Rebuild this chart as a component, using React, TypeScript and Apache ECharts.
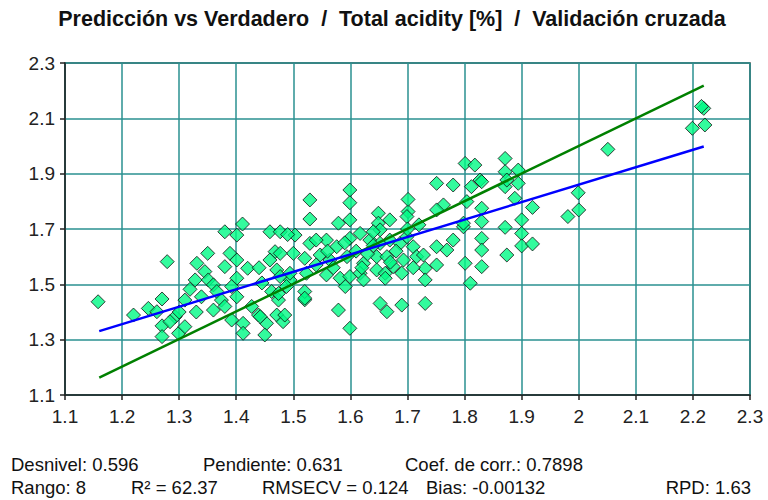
import React, { useEffect, useRef } from "react";
import * as echarts from "echarts";

// Reference (Verdadero) values, x axis
const refX = [
  1.158, 1.279, 1.220, 1.246, 1.270, 1.261, 1.270, 1.270, 1.293, 1.299,
  1.284, 1.319, 1.328, 1.331, 1.350, 1.345, 1.351, 1.360, 1.366, 1.360,
  1.374, 1.380, 1.389, 1.401, 1.420, 1.401, 1.401, 1.380, 1.401, 1.411,
  1.392, 1.412, 1.412, 1.439, 1.453, 1.450, 1.471, 1.459, 1.477, 1.468,
  1.459, 1.471, 1.462, 1.474, 1.310, 1.380, 1.427, 1.392, 1.339, 1.310,
  1.482, 1.442, 1.520, 1.474, 1.494, 1.503, 1.500, 1.477, 1.520, 1.547,
  1.564, 1.594, 1.558, 1.576, 1.599, 1.617, 1.634, 1.652, 1.669, 1.687,
  1.699, 1.710, 1.623, 1.646, 1.664, 1.675, 1.693, 1.716, 1.728, 1.477,
  1.494, 1.523, 1.558, 1.582, 1.599, 1.617, 1.646, 1.661, 1.690, 1.731,
  1.751, 1.488, 1.520, 1.520, 1.591, 1.623, 1.731, 1.485, 1.579, 1.599,
  1.652, 1.664, 1.690, 1.731, 1.579, 1.599, 1.649, 1.649, 1.669, 1.652,
  1.701, 1.699, 1.701, 1.599, 1.599, 1.529, 1.529, 1.529, 1.751, 1.780,
  1.801, 1.818, 1.812, 1.804, 1.763, 1.751, 1.780, 1.769, 1.798, 1.801,
  1.810, 1.751, 1.720, 1.661, 1.830, 1.874, 1.490, 1.798, 1.827, 1.830,
  1.830, 1.830, 1.830, 1.830, 1.871, 1.871, 1.894, 1.871, 1.894, 1.888,
  1.874, 1.900, 1.900, 1.900, 1.919, 1.919, 1.871, 1.999, 2.000, 1.981,
  2.051, 2.199, 2.221, 2.219, 2.215, 1.570, 1.610, 1.630, 1.680, 1.700,
  1.640, 1.590, 1.540, 1.560, 1.620, 1.670, 1.710, 1.540, 1.640, 1.440,
  1.445, 1.330, 1.300,
];

// Predicted (Predicción) values, y axis
const predY = [
  1.437, 1.582, 1.389, 1.413, 1.447, 1.401, 1.350, 1.311, 1.383, 1.323,
  1.365, 1.482, 1.516, 1.576, 1.612, 1.546, 1.516, 1.498, 1.474, 1.407,
  1.443, 1.564, 1.612, 1.588, 1.558, 1.522, 1.455, 1.690, 1.678, 1.718,
  1.371, 1.359, 1.323, 1.389, 1.359, 1.317, 1.389, 1.690, 1.690, 1.618,
  1.588, 1.552, 1.474, 1.443, 1.443, 1.420, 1.420, 1.492, 1.455, 1.347,
  1.365, 1.383, 1.444, 1.467, 1.516, 1.678, 1.612, 1.612, 1.594, 1.606,
  1.588, 1.600, 1.660, 1.636, 1.666, 1.684, 1.660, 1.648, 1.660, 1.648,
  1.672, 1.636, 1.576, 1.600, 1.600, 1.564, 1.588, 1.600, 1.606, 1.528,
  1.540, 1.540, 1.534, 1.522, 1.528, 1.540, 1.552, 1.540, 1.540, 1.558,
  1.570, 1.492, 1.474, 1.450, 1.492, 1.516, 1.516, 1.389, 1.407, 1.341,
  1.431, 1.401, 1.425, 1.431, 1.721, 1.733, 1.757, 1.721, 1.733, 1.697,
  1.763, 1.745, 1.807, 1.841, 1.795, 1.805, 1.736, 1.648, 1.865, 1.859,
  1.937, 1.931, 1.853, 1.799, 1.787, 1.769, 1.660, 1.624, 1.708, 1.576,
  1.504, 1.636, 1.715, 1.522, 1.564, 1.606, 1.680, 1.721, 1.877, 1.871,
  1.775, 1.727, 1.666, 1.624, 1.955, 1.907, 1.913, 1.853, 1.865, 1.811,
  1.877, 1.733, 1.684, 1.639, 1.778, 1.646, 1.706, 1.831, 1.769, 1.745,
  1.988, 2.064, 2.076, 2.136, 2.143, 1.560, 1.620, 1.610, 1.620, 1.700,
  1.690, 1.650, 1.570, 1.620, 1.560, 1.580, 1.560, 1.660, 1.640, 1.560,
  1.505, 1.400, 1.400,
];

// Target line (green) and regression line (blue) end points
const targetLine = [
  [1.16, 1.163],
  [2.219, 2.218],
];
const regressionLine = [
  [1.16, 1.331],
  [2.219, 1.998],
];

const titleText =
  "Predicción vs Verdadero  /  Total acidity [%]  /  Validación cruzada";

const statsRow1 = [
  { label: "Desnivel: 0.596", x: 11, align: "left" },
  { label: "Pendiente: 0.631", x: 203, align: "left" },
  { label: "Coef. de corr.: 0.7898", x: 405, align: "left" },
];
const statsRow2 = [
  { label: "Rango: 8", x: 11, align: "left" },
  { label: "R² = 62.37", x: 131, align: "left" },
  { label: "RMSECV = 0.124", x: 262, align: "left" },
  { label: "Bias: -0.00132", x: 426, align: "left" },
  { label: "RPD: 1.63", x: 751, align: "right" },
];

const FONT = '"Liberation Sans", Arial, sans-serif';

export default function App() {
  const ref = useRef<HTMLDivElement>(null);

  useEffect(() => {
    document.body.style.margin = "0";
    if (!ref.current) return;
    const chart = echarts.init(ref.current, null, { renderer: "svg" });
    const points = refX.map((x, i) => [x, predY[i]]);
    const fmt = (v: number) => String(Number(v.toFixed(2)));

    const statText = (
      items: { label: string; x: number; align: string }[],
      y: number
    ) =>
      items.map((it) => ({
        type: "text",
        x: it.x,
        y,
        style: {
          text: it.label,
          font: `18.5px ${FONT}`,
          fill: "#111",
          align: it.align,
          verticalAlign: "middle",
        },
      }));

    chart.setOption({
      animation: false,
      backgroundColor: "#fff",
      grid: {
        left: 65,
        right: 18,
        top: 63,
        bottom: 105,
        show: true,
        borderColor: "#333",
        borderWidth: 1.5,
        backgroundColor: "transparent",
      },
      xAxis: {
        type: "value",
        min: 1.1,
        max: 2.3,
        interval: 0.1,
        axisLine: { show: true, lineStyle: { color: "#222", width: 1.5 } },
        axisTick: { show: true, length: 5, lineStyle: { color: "#222", width: 1.5 } },
        axisLabel: {
          formatter: fmt,
          fontSize: 19,
          fontFamily: FONT,
          color: "#222",
          margin: 12,
        },
        splitLine: { show: true, lineStyle: { color: "#2a9191", width: 1.5 } },
      },
      yAxis: {
        type: "value",
        min: 1.1,
        max: 2.3,
        interval: 0.2,
        axisLine: { show: true, lineStyle: { color: "#222", width: 1.5 } },
        axisTick: { show: true, length: 5, lineStyle: { color: "#222", width: 1.5 } },
        axisLabel: {
          formatter: fmt,
          fontSize: 19,
          fontFamily: FONT,
          color: "#222",
          margin: 10,
        },
        splitLine: { show: true, lineStyle: { color: "#2a9191", width: 1.5 } },
      },
      series: [
        {
          type: "scatter",
          data: points,
          symbol: "diamond",
          symbolSize: [14, 14],
          itemStyle: { color: "#00fa84", borderColor: "#111", borderWidth: 1 },
          z: 2,
        },
        {
          type: "line",
          data: targetLine,
          symbol: "none",
          lineStyle: { color: "#008000", width: 2.5 },
          z: 3,
        },
        {
          type: "line",
          data: regressionLine,
          symbol: "none",
          lineStyle: { color: "#0000ff", width: 2.5 },
          z: 4,
        },
      ],
      graphic: [
        {
          type: "text",
          x: 392,
          y: 19,
          style: {
            text: titleText,
            font: `bold 21.5px ${FONT}`,
            fill: "#111",
            align: "center",
            verticalAlign: "middle",
          },
        },
        ...statText(statsRow1, 464),
        ...statText(statsRow2, 487),
      ],
    });
    return () => chart.dispose();
  }, []);

  return <div ref={ref} style={{ width: 768, height: 500 }} />;
}
